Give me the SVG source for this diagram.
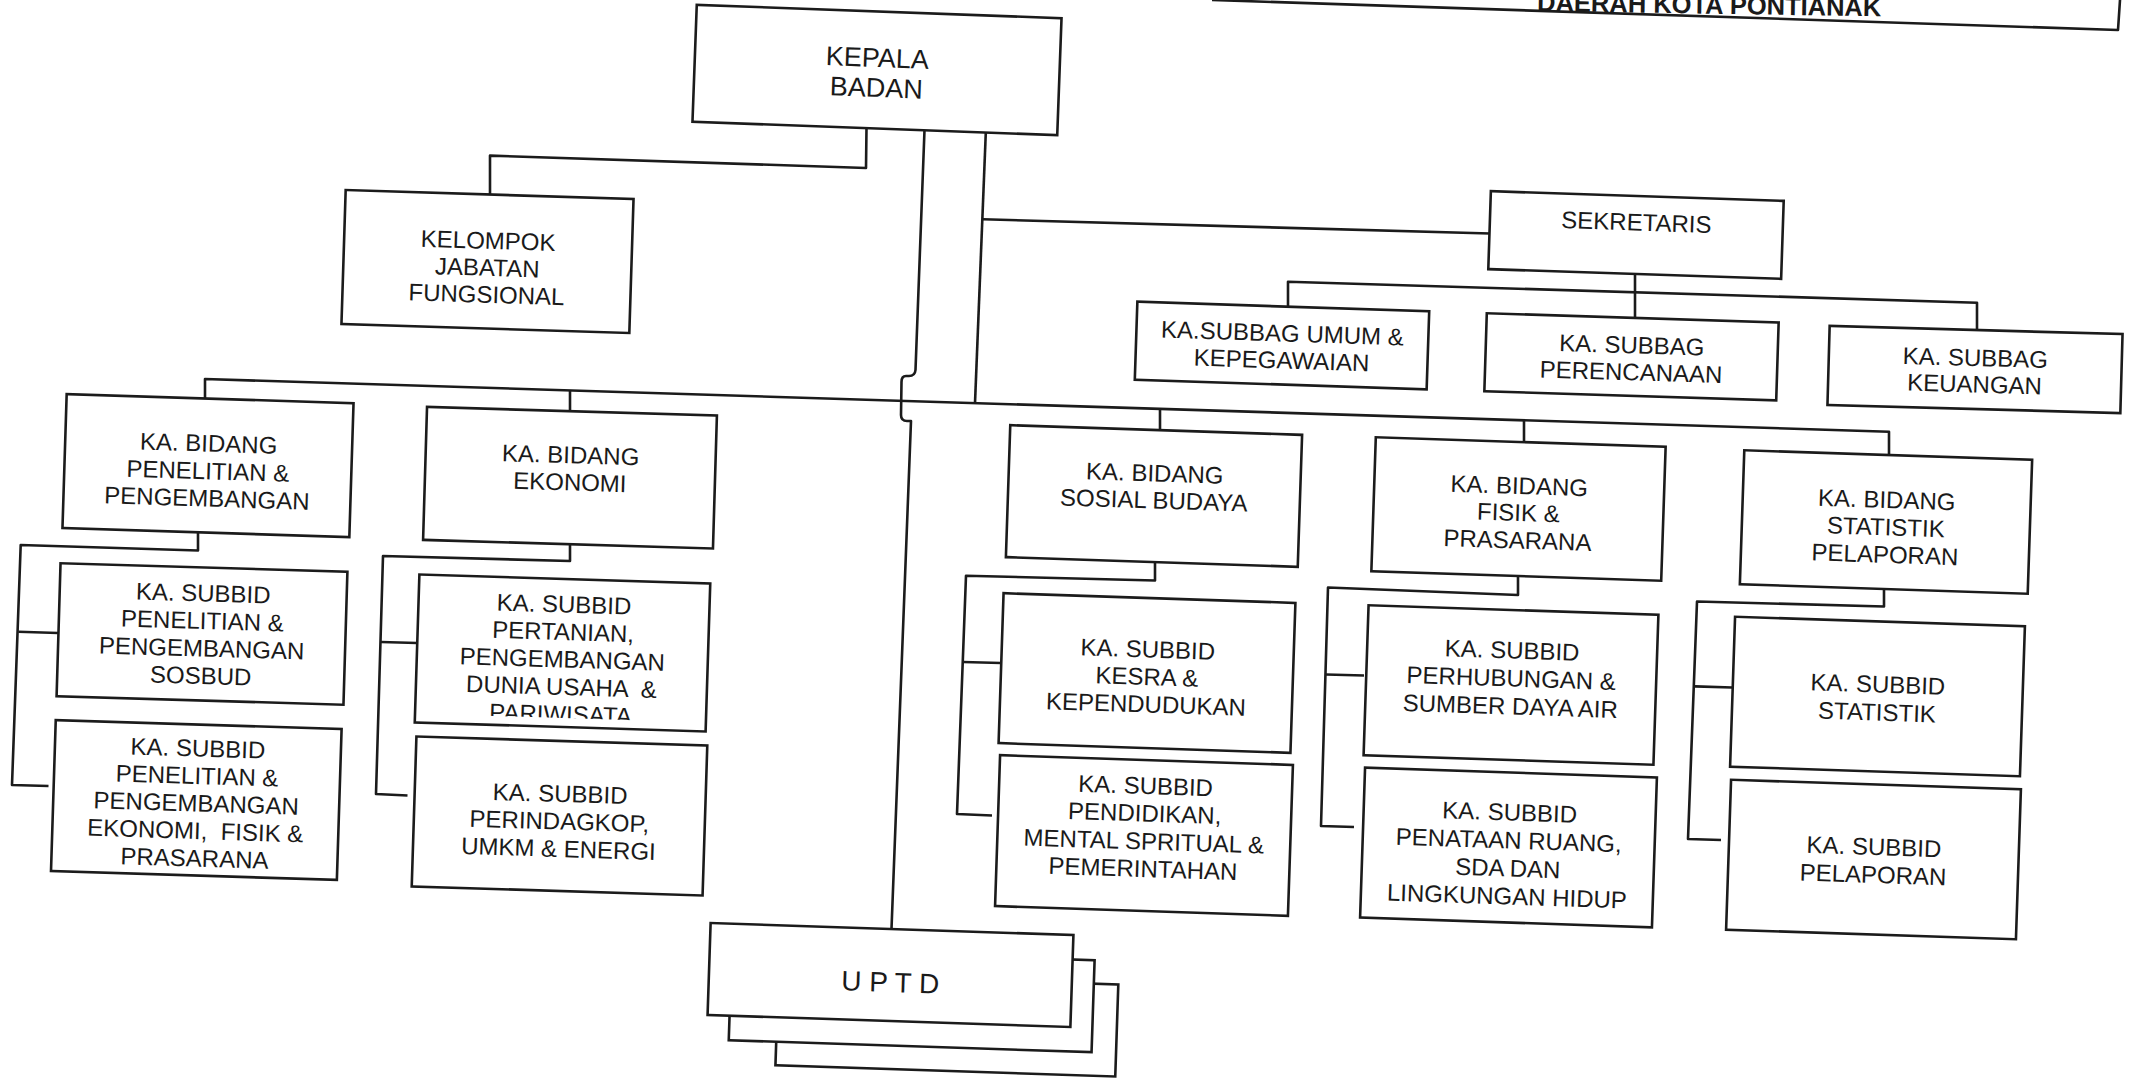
<svg xmlns="http://www.w3.org/2000/svg" width="2129" height="1078" viewBox="0 0 2129 1078">
  <style>
    .box { fill: #ffffff; stroke: #1b1b1b; stroke-width: 2.6; }
    .ln { fill: none; stroke: #1b1b1b; stroke-width: 2.6; stroke-linejoin: round; }
    .t { font-family: "Liberation Sans", Arial, sans-serif; font-size: 24px; text-anchor: middle; fill: #1a1a1a; }
    .big { font-size: 27px; }
    .title { font-family: "Liberation Sans", Arial, sans-serif; font-size: 25.5px; font-weight: bold; fill: #1a1a1a; }
  </style>
  <defs>
    <clipPath id="clip-pertanian">
      <rect x="-145.5" y="-74" width="291" height="139"/>
    </clipPath>
  </defs>

  <rect x="0" y="0" width="2129" height="1078" fill="#ffffff"/>

  <!-- heading panel, top right -->
  <g id="title">
    <path class="ln" d="M1212,0 L2118,30 L2120,0"/>
    <text class="title" x="1537" y="11" transform="rotate(0.9 1537 11)">DAERAH KOTA PONTIANAK</text>
  </g>

  <!-- connectors -->
  <g id="connectors">
    <!-- kepala to kelompok jabatan fungsional -->
    <path class="ln" d="M866.5,128 L866,168 L490,155.6 L490,194.5"/>
    <!-- kepala down to UPTD, hopping over the main bar -->
    <path class="ln" d="M924.5,130 L915.5,370 Q915,376 909,376 L906,376 Q901.5,376 901.5,382 L901,415 Q901,421 907,421 L911,421 L891.5,929"/>
    <!-- kepala to main bar -->
    <path class="ln" d="M985.8,132.5 L975,403.1"/>
    <!-- branch to sekretaris -->
    <path class="ln" d="M983,219.3 L1490,233.5"/>
    <!-- main bar and drops to the bidang -->
    <path class="ln" d="M205,398.5 L205,379 L1889,431.7 L1889,455"/>
    <path class="ln" d="M570,390.3 L570,411.5"/>
    <path class="ln" d="M1160,408.9 L1160,430.5"/>
    <path class="ln" d="M1524,420.3 L1524,442.2"/>
    <!-- sekretaris subtree -->
    <path class="ln" d="M1635,274 L1635,318"/>
    <path class="ln" d="M1288,306 L1288,281.7 L1977,302.7 L1977,330"/>
    <!-- bidang penelitian & pengembangan subtree -->
    <path class="ln" d="M198,532 L198,550.5 L20.7,545 L12,785 L48.5,786"/>
    <path class="ln" d="M18.3,631.7 L58,633"/>
    <!-- bidang ekonomi subtree -->
    <path class="ln" d="M570,544 L570,561 L383,556 L376,794 L407.5,795.5"/>
    <path class="ln" d="M381,642 L417,643"/>
    <!-- bidang sosial budaya subtree -->
    <path class="ln" d="M1155,562 L1155,580.5 L966,575.7 L957,814 L992,815.5"/>
    <path class="ln" d="M963,662 L1001,663"/>
    <!-- bidang fisik & prasarana subtree -->
    <path class="ln" d="M1518,576 L1518,595 L1328,587.5 L1321,826 L1354,827"/>
    <path class="ln" d="M1326,674.5 L1364,675.5"/>
    <!-- bidang statistik pelaporan subtree -->
    <path class="ln" d="M1884,589 L1884,606.5 L1697,601.5 L1688,839 L1721,840"/>
    <path class="ln" d="M1695,686.4 L1732,687.5"/>
  </g>

  <!-- nodes -->
  <g id="kepala-badan" transform="translate(877,70) rotate(2.1)">
    <rect class="box" x="-182.5" y="-58.5" width="365" height="117"/>
    <text class="t big" x="0" y="-3">KEPALA</text>
    <text class="t big" x="0" y="27">BADAN</text>
  </g>

  <g id="kelompok-jabatan-fungsional" transform="translate(487.5,261.5) rotate(1.8)">
    <rect class="box" x="-144" y="-67" width="288" height="134"/>
    <text class="t" x="0" y="-12.7">KELOMPOK</text>
    <text class="t" x="0" y="14.3">JABATAN</text>
    <text class="t" x="0" y="41.3">FUNGSIONAL</text>
  </g>

  <g id="sekretaris" transform="translate(1636,235) rotate(1.9)">
    <rect class="box" x="-146.5" y="-39" width="293" height="78"/>
    <text class="t" x="0" y="-4.5">SEKRETARIS</text>
  </g>

  <g id="subbag-umum" transform="translate(1282,345.5) rotate(1.9)">
    <rect class="box" x="-146" y="-39" width="292" height="78"/>
    <text class="t" x="0" y="-4">KA.SUBBAG UMUM &amp;</text>
    <text class="t" x="0" y="23">KEPEGAWAIAN</text>
  </g>

  <g id="subbag-perencanaan" transform="translate(1631.5,356.8) rotate(1.8)">
    <rect class="box" x="-146" y="-39" width="292" height="78"/>
    <text class="t" x="0" y="-3.5">KA. SUBBAG</text>
    <text class="t" x="0" y="23.5">PERENCANAAN</text>
  </g>

  <g id="subbag-keuangan" transform="translate(1975,369.5) rotate(1.6)">
    <rect class="box" x="-146.5" y="-39.5" width="293" height="79"/>
    <text class="t" x="0" y="-3.5">KA. SUBBAG</text>
    <text class="t" x="0" y="23">KEUANGAN</text>
  </g>

  <g id="bidang-penelitian" transform="translate(208,465.6) rotate(1.8)">
    <rect class="box" x="-143.5" y="-67" width="287" height="134"/>
    <text class="t" x="0" y="-14">KA. BIDANG</text>
    <text class="t" x="0" y="13.7">PENELITIAN &amp;</text>
    <text class="t" x="0" y="41">PENGEMBANGAN</text>
  </g>

  <g id="bidang-ekonomi" transform="translate(570,477.7) rotate(1.7)">
    <rect class="box" x="-145" y="-66.5" width="290" height="133"/>
    <text class="t" x="0" y="-14.5">KA. BIDANG</text>
    <text class="t" x="0" y="12.8">EKONOMI</text>
  </g>

  <g id="bidang-sosial-budaya" transform="translate(1154,496) rotate(1.9)">
    <rect class="box" x="-146" y="-66" width="292" height="132"/>
    <text class="t" x="0" y="-14.5">KA. BIDANG</text>
    <text class="t" x="0" y="12.5">SOSIAL BUDAYA</text>
  </g>

  <g id="bidang-fisik" transform="translate(1518.5,509) rotate(1.9)">
    <rect class="box" x="-145" y="-67" width="290" height="134"/>
    <text class="t" x="0" y="-15">KA. BIDANG</text>
    <text class="t" x="0" y="12">FISIK &amp;</text>
    <text class="t" x="0" y="39.5">PRASARANA</text>
  </g>

  <g id="bidang-statistik" transform="translate(1886,522) rotate(1.9)">
    <rect class="box" x="-144" y="-67" width="288" height="134"/>
    <text class="t" x="0" y="-14">KA. BIDANG</text>
    <text class="t" x="0" y="13.3">STATISTIK</text>
    <text class="t" x="0" y="40.8">PELAPORAN</text>
  </g>

  <g id="subbid-litbang-sosbud" transform="translate(202,634) rotate(1.7)">
    <rect class="box" x="-143.5" y="-66.5" width="287" height="133"/>
    <text class="t" x="0" y="-32.5">KA. SUBBID</text>
    <text class="t" x="0" y="-5">PENELITIAN &amp;</text>
    <text class="t" x="0" y="22.5">PENGEMBANGAN</text>
    <text class="t" x="0" y="50">SOSBUD</text>
  </g>

  <g id="subbid-litbang-ekonomi" transform="translate(196.3,800) rotate(1.8)">
    <rect class="box" x="-143" y="-75.5" width="286" height="151"/>
    <text class="t" x="0" y="-43.5">KA. SUBBID</text>
    <text class="t" x="0" y="-16">PENELITIAN &amp;</text>
    <text class="t" x="0" y="11.5">PENGEMBANGAN</text>
    <text class="t" x="0" y="39" style="white-space:pre">EKONOMI,  FISIK &amp;</text>
    <text class="t" x="0" y="66.5">PRASARANA</text>
  </g>

  <g id="subbid-pertanian" transform="translate(562.5,653) rotate(1.8)">
    <rect class="box" x="-145.5" y="-74" width="291" height="148"/>
    <g clip-path="url(#clip-pertanian)">
      <text class="t" x="0" y="-40.5">KA. SUBBID</text>
      <text class="t" x="0" y="-13">PERTANIAN,</text>
      <text class="t" x="0" y="14.5">PENGEMBANGAN</text>
      <text class="t" x="0" y="42" style="white-space:pre">DUNIA USAHA  &amp;</text>
      <text class="t" x="0" y="69.5">PARIWISATA</text>
    </g>
  </g>

  <g id="subbid-perindagkop" transform="translate(559.5,816) rotate(1.8)">
    <rect class="box" x="-145.5" y="-75" width="291" height="150"/>
    <text class="t" x="0" y="-14">KA. SUBBID</text>
    <text class="t" x="0" y="13.5">PERINDAGKOP,</text>
    <text class="t" x="0" y="41">UMKM &amp; ENERGI</text>
  </g>

  <g id="subbid-kesra" transform="translate(1147,673) rotate(1.9)">
    <rect class="box" x="-146" y="-75" width="292" height="150"/>
    <text class="t" x="0" y="-15.5">KA. SUBBID</text>
    <text class="t" x="0" y="12">KESRA &amp;</text>
    <text class="t" x="0" y="39.5">KEPENDUDUKAN</text>
  </g>

  <g id="subbid-pendidikan" transform="translate(1144,835.5) rotate(1.9)">
    <rect class="box" x="-146.5" y="-75.5" width="293" height="151"/>
    <text class="t" x="0" y="-41.5">KA. SUBBID</text>
    <text class="t" x="0" y="-14">PENDIDIKAN,</text>
    <text class="t" x="0" y="14">MENTAL SPRITUAL &amp;</text>
    <text class="t" x="0" y="41.5">PEMERINTAHAN</text>
  </g>

  <g id="subbid-perhubungan" transform="translate(1511,685) rotate(1.9)">
    <rect class="box" x="-145" y="-75" width="290" height="150"/>
    <text class="t" x="0" y="-26.5">KA. SUBBID</text>
    <text class="t" x="0" y="1.5">PERHUBUNGAN &amp;</text>
    <text class="t" x="0" y="29.5">SUMBER DAYA AIR</text>
  </g>

  <g id="subbid-penataan-ruang" transform="translate(1508.5,847.5) rotate(1.9)">
    <rect class="box" x="-146" y="-75" width="292" height="150"/>
    <text class="t" x="0" y="-27">KA. SUBBID</text>
    <text class="t" x="0" y="1">PENATAAN RUANG,</text>
    <text class="t" x="0" y="29">SDA DAN</text>
    <text class="t" x="0" y="57">LINGKUNGAN HIDUP</text>
  </g>

  <g id="subbid-statistik" transform="translate(1877.5,696.5) rotate(1.9)">
    <rect class="box" x="-145" y="-75" width="290" height="150"/>
    <text class="t" x="0" y="-4">KA. SUBBID</text>
    <text class="t" x="0" y="24">STATISTIK</text>
  </g>

  <g id="subbid-pelaporan" transform="translate(1873.5,859.5) rotate(1.9)">
    <rect class="box" x="-145" y="-75" width="290" height="150"/>
    <text class="t" x="0" y="-4.5">KA. SUBBID</text>
    <text class="t" x="0" y="23.5">PELAPORAN</text>
  </g>

  <!-- stacked UPTD units -->
  <g id="uptd" transform="translate(890.5,975) rotate(1.9)">
    <rect class="box" x="-112" y="2" width="340" height="92"/>
    <rect class="box" x="-159.5" y="-21.5" width="363" height="92"/>
    <rect class="box" x="-181.5" y="-46" width="363" height="92"/>
    <text class="t" x="0" y="17" style="font-size:28px">U P T D</text>
  </g>
</svg>
